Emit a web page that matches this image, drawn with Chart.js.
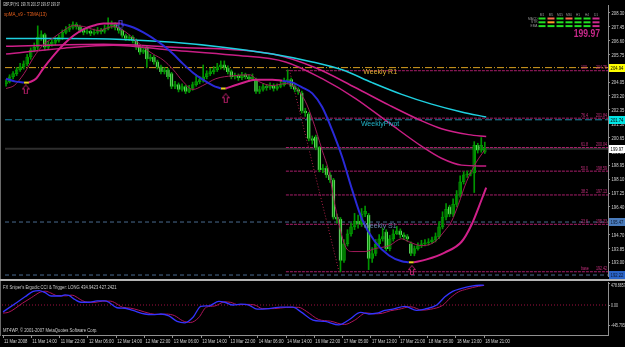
<!DOCTYPE html>
<html>
<head>
<meta charset="utf-8">
<script src="https://cdn.jsdelivr.net/npm/chart.js@4.4.1/dist/chart.umd.min.js"></script>
<style>
  html, body { margin: 0; padding: 0; background: #000; }
  #wrap { position: relative; width: 625px; height: 347px; background: #000; overflow: hidden; }
  #main { position: absolute; left: 0; top: 0; }
  #osc { position: absolute; left: 0; top: 281px; }
</style>
</head>
<body>
<div id="wrap">
  <canvas id="main" width="625" height="281"></canvas>
  <canvas id="osc" width="625" height="66"></canvas>
</div>
<script>
// GBPJPY H1, 11 Mar 2008 .. 18 Mar 2008, one entry per hourly bar
const timeLabels = ['11 Mar 2008', '11 Mar 14:00', '11 Mar 22:00', '12 Mar 06:00', '12 Mar 14:00', '12 Mar 22:00',
  '13 Mar 06:00', '13 Mar 14:00', '13 Mar 22:00', '14 Mar 06:00', '14 Mar 14:00', '16 Mar 22:00',
  '17 Mar 05:00', '17 Mar 13:00', '17 Mar 21:00', '18 Mar 05:00', '18 Mar 13:00', '18 Mar 21:00'];
const timeTickBars = [0, 8, 16, 24, 32, 40, 48, 56, 64, 72, 80, 88, 96, 104, 112, 120, 128, 136];
const priceTicks = [208.30, 207.45, 206.60, 205.75, 204.90, 204.05, 203.20, 202.35, 201.50, 200.65,
  199.80, 198.95, 198.10, 197.25, 196.40, 195.55, 194.70, 193.85, 193.00];

const opens = [
  203.95, 204.08, 204.38, 204.57, 204.81, 204.99, 205.17, 205.59, 206.01, 206.19,
  206.79, 206.97, 206.19, 206.37, 206.49, 206.61, 206.79, 207.10, 207.28, 207.40,
  207.58, 207.46, 207.22, 207.10, 207.16, 207.04, 207.10, 207.22, 207.16, 207.34,
  207.46, 207.58, 207.40, 207.22, 206.91, 206.73, 206.79, 206.61, 206.19, 205.89,
  206.19, 205.47, 205.59, 205.29, 204.99, 204.69, 204.81, 204.57, 203.78, 203.90,
  203.60, 203.78, 203.48, 203.66, 203.90, 204.08, 204.20, 204.38, 204.57, 204.69,
  204.81, 204.99, 205.11, 204.93, 204.69, 204.38, 204.44, 204.32, 204.50, 204.38,
  204.26, 204.20, 203.48, 203.60, 203.78, 203.72, 203.84, 203.66, 203.78, 203.90,
  204.08, 204.20, 203.78, 203.60, 203.40, 202.28, 202.10, 200.59, 200.70, 200.05,
  198.66, 198.78, 198.36, 198.06, 195.77, 195.65, 193.12, 194.14, 194.75, 195.17,
  195.53, 195.35, 195.95, 195.90, 193.24, 193.54, 194.14, 194.44, 194.87, 193.84,
  194.44, 194.75, 194.93, 194.69, 194.57, 194.14, 193.54, 193.84, 194.02, 194.14,
  194.20, 194.26, 194.38, 194.57, 195.17, 195.77, 196.40, 195.95, 196.55, 197.16,
  197.94, 198.36, 198.42, 198.48, 200.17, 199.87, 199.76];
const highs = [
  204.20, 204.50, 204.70, 204.95, 205.20, 205.35, 205.75, 206.15, 206.45, 207.50,
  207.20, 207.05, 206.55, 206.65, 206.80, 206.95, 207.25, 207.45, 207.60, 207.75,
  207.70, 207.55, 207.35, 207.35, 207.25, 207.30, 207.40, 207.35, 207.55, 208.00,
  207.80, 207.70, 207.50, 207.30, 207.00, 206.95, 206.90, 206.70, 206.30, 206.20,
  206.25, 205.75, 205.70, 205.40, 205.10, 204.95, 204.90, 204.65, 204.10, 204.00,
  203.95, 203.85, 203.85, 204.05, 204.50, 204.40, 205.10, 204.75, 204.90, 205.00,
  205.20, 205.35, 205.35, 205.05, 204.80, 204.60, 204.55, 204.65, 204.60, 204.50,
  204.55, 204.30, 203.80, 203.95, 203.90, 204.00, 203.95, 203.95, 204.10, 204.30,
  204.80, 204.30, 203.90, 203.70, 203.50, 202.45, 202.20, 200.75, 200.80, 200.10,
  199.00, 198.90, 198.50, 198.15, 195.95, 195.75, 194.40, 195.00, 195.40, 196.00,
  195.90, 196.30, 196.45, 196.00, 193.90, 194.40, 194.70, 195.10, 195.00, 194.65,
  195.00, 195.20, 195.05, 194.80, 194.70, 194.25, 194.00, 194.20, 194.35, 194.40,
  194.45, 194.55, 194.80, 195.50, 196.10, 196.60, 196.50, 196.90, 197.40, 198.30,
  198.55, 198.60, 198.65, 200.40, 200.30, 200.65, 200.37];
const lows = [
  203.80, 204.00, 204.25, 204.45, 204.70, 204.85, 205.05, 205.45, 205.90, 206.05,
  206.60, 206.00, 206.05, 206.25, 206.35, 206.50, 206.65, 207.00, 207.15, 207.30,
  207.30, 207.10, 206.95, 207.00, 206.90, 206.95, 207.00, 207.00, 207.05, 207.25,
  207.35, 207.25, 207.05, 206.80, 206.60, 206.60, 206.45, 206.05, 205.75, 205.80,
  204.95, 205.35, 205.15, 204.85, 204.55, 204.55, 204.25, 203.65, 203.65, 203.45,
  203.50, 203.35, 203.40, 203.55, 203.80, 203.95, 204.05, 204.25, 204.45, 204.55,
  204.70, 204.85, 204.80, 204.55, 204.25, 204.25, 204.15, 204.20, 204.25, 204.10,
  204.15, 203.35, 203.35, 203.50, 203.55, 203.60, 203.50, 203.55, 203.70, 203.80,
  203.95, 203.65, 203.45, 203.30, 202.15, 201.95, 200.45, 200.25, 199.90, 198.55,
  198.50, 198.20, 197.90, 195.65, 195.40, 192.42, 193.00, 194.00, 194.60, 195.00,
  195.10, 195.20, 195.80, 192.55, 193.00, 193.40, 194.00, 194.30, 193.70, 193.70,
  194.30, 194.70, 194.50, 194.40, 194.30, 193.40, 193.40, 193.75, 193.90, 194.00,
  194.05, 194.15, 194.25, 194.45, 195.05, 195.60, 195.80, 195.80, 196.40, 197.00,
  197.80, 198.20, 198.30, 197.28, 199.70, 199.75, 199.67];
const closes = [
  204.08, 204.38, 204.57, 204.81, 204.99, 205.17, 205.59, 206.01, 206.19, 206.79,
  206.97, 206.19, 206.37, 206.49, 206.61, 206.79, 207.10, 207.28, 207.40, 207.58,
  207.46, 207.22, 207.10, 207.16, 207.04, 207.10, 207.22, 207.16, 207.34, 207.46,
  207.58, 207.40, 207.22, 206.91, 206.73, 206.79, 206.61, 206.19, 205.89, 206.01,
  205.47, 205.59, 205.29, 204.99, 204.69, 204.81, 204.38, 203.78, 203.90, 203.60,
  203.78, 203.48, 203.66, 203.90, 204.08, 204.20, 204.38, 204.57, 204.69, 204.81,
  204.99, 205.11, 204.93, 204.69, 204.38, 204.44, 204.32, 204.50, 204.38, 204.26,
  204.38, 203.48, 203.60, 203.78, 203.72, 203.84, 203.66, 203.78, 203.90, 204.08,
  204.20, 203.78, 203.60, 203.48, 202.28, 202.16, 200.59, 200.47, 200.05, 198.66,
  198.78, 198.36, 198.06, 195.77, 195.65, 193.12, 194.14, 194.75, 195.17, 195.53,
  195.35, 195.95, 196.13, 193.24, 193.54, 194.14, 194.44, 194.57, 193.84, 194.44,
  194.75, 194.93, 194.69, 194.57, 194.44, 193.54, 193.84, 194.02, 194.14, 194.20,
  194.26, 194.38, 194.57, 195.17, 195.77, 196.25, 195.95, 196.55, 197.16, 197.94,
  198.36, 198.42, 198.48, 200.17, 199.87, 200.17, 199.97];

// indicator curves, [bar, price]
const cyanMA = [[0, 206.73], [16.4, 206.73], [33.3, 206.67], [47.5, 206.49], [61.6, 206.19], [75.7, 205.77],
  [87.0, 205.29], [95.5, 204.81], [104.0, 204.02], [112.4, 203.30], [120.9, 202.70], [129.4, 202.22], [136.4, 201.91]];
const slowMA = [[0, 206.25], [27.7, 206.37], [47.5, 206.19], [75.7, 205.77], [87.9, 204.93], [99.2, 203.72],
  [108.8, 202.64], [118.1, 201.67], [123.7, 201.19], [131.4, 200.83], [136.4, 200.71]];
const midMA = [[0, 205.77], [16.4, 206.13], [30.5, 206.31], [47.5, 206.01], [64.4, 205.71], [79.4, 205.29],
  [89.8, 204.26], [99.2, 203.06], [108.8, 201.55], [118.1, 200.11], [123.7, 199.38], [129.4, 198.96], [136.4, 198.90]];
const fastMA = [[0, 203.66], [2.3, 203.84], [5.1, 204.57], [7.9, 205.59], [10.7, 206.37], [13.6, 206.79],
  [16.4, 207.22], [19.2, 207.52], [22.0, 207.46], [26.3, 207.22], [30.5, 207.46], [33.3, 207.22], [36.2, 206.73],
  [39.0, 206.19], [41.8, 205.77], [44.6, 205.41], [47.5, 204.81], [50.3, 204.08], [53.1, 203.60], [55.9, 203.84],
  [59.6, 204.26], [64.4, 204.44], [69.2, 204.50], [71.9, 204.08], [75.7, 203.84], [79.4, 203.96], [82.2, 203.72],
  [85.0, 202.88], [87.0, 201.79], [89.8, 199.87], [91.8, 198.48], [93.5, 196.43], [96.3, 194.02], [98.3, 193.66],
  [102.0, 193.66], [104.8, 193.84], [108.8, 194.02], [112.4, 194.44], [114.4, 194.26], [118.1, 194.02],
  [121.8, 194.26], [124.6, 194.93], [126.6, 195.53], [128.5, 196.55], [130.8, 197.94], [133.6, 199.14], [135.9, 199.87]];
// xpMA T3 line, split where its colour changes: down / turn / up
const xpMASegments = [
  ['down', [[0, 204.26], [2.8, 204.08], [5.1, 204.02]]],
  ['turn', [[5.1, 204.02], [6.5, 204.02]]],
  ['up', [[6.5, 204.02], [8.5, 204.26], [10.7, 204.93], [13.6, 205.71], [16.4, 206.37], [19.2, 206.91],
    [22.0, 207.28], [24.9, 207.52], [27.7, 207.64], [32.5, 207.64]]],
  ['down', [[32.5, 207.64], [36.2, 207.40], [39.0, 207.10], [41.8, 206.73], [44.6, 206.31], [47.5, 205.77],
    [50.3, 205.17], [53.1, 204.63], [55.9, 204.20], [58.8, 203.84], [61.0, 203.66]]],
  ['turn', [[61.0, 203.66], [62.4, 203.66]]],
  ['up', [[62.4, 203.66], [65.8, 203.90], [70.9, 204.20], [75.7, 204.20], [78.5, 204.14]]],
  ['down', [[78.5, 204.14], [81.4, 204.02], [84.2, 203.72], [87.0, 203.36], [89.8, 202.52], [92.7, 201.07],
    [95.5, 199.44], [98.3, 197.46], [101.1, 195.65], [104.8, 194.26], [108.8, 193.42], [112.4, 193.06], [114.4, 193.00]]],
  ['turn', [[114.4, 193.00], [115.8, 193.00]]],
  ['up', [[115.8, 193.00], [119.5, 193.18], [124.6, 193.60], [129.4, 194.26], [132.2, 195.29], [135.0, 196.79], [136.4, 197.58]]]
];
const upArrows = [[5.6, 203.60], [62.4, 203.06], [115.3, 192.52]];
const downArrows = [[32.5, 207.58]];

// objects: weekly pivots, Fibonacci retracement, bid
const weeklyNames = ['Weekly R1', 'WeeklyPivot', 'Weekly S1', 'Weekly S2'];
const weeklyPrices = [204.94, 201.74, 195.47, 192.22];
const weeklyTextBar = [101.5, 100.8, 101.5, 101.5];
const fibLevels = ['100', '76.4', '61.8', '50.0', '38.2', '23.6', 'base'];
const fibPrices = [204.75, 201.84, 200.04, 198.59, 197.13, 195.33, 192.42];
const fibStartBar = 79.5;
const fibTrend = [[80.5, 204.80], [94.6, 192.42]];
const bidPrice = 199.97;

// signal panel
const sigRows = ['MACD', 'STR', 'EMA'];
const sigCols = ['M1', 'M5', 'M15', 'M30', 'H1', 'H4', 'D1'];
const sigState = [
  ['up', 'dn', 'up', 'dn', 'up', 'up', 'd1'],
  ['up', 'dn2', 'up', 'up', 'up', 'up', 'd1'],
  ['up', 'up', 'up', 'up', 'up', 'up', 'd1']];

// Ergodic CCI & trigger, [bar, value]
const cciLine = [[0, -149], [4, 60], [6.2, 178], [8.5, 298], [10.2, 315], [11.9, 268], [13.6, 196], [16.4, 196],
  [17.5, 220], [18.6, 208], [20.3, 119], [22, 60], [24.3, 60], [26.6, 89], [28.8, 89], [29.9, 60], [32.2, -60],
  [34.5, -71], [36.7, -119], [40.1, -196], [42.4, -208], [44.6, -196], [46.9, -238], [49.2, -357], [51.4, -387],
  [53.7, -268], [55.9, -30], [58.2, -18], [61, 77], [62.7, 60], [65, 0], [67.2, 18], [69.5, 0], [71.8, -89],
  [75.1, -77], [78.5, -48], [81.9, -48], [84.2, -149], [87.6, -327], [91, -357], [94.9, -434], [97.7, -327],
  [101.1, -161], [103.4, -196], [105.6, -178], [107.9, -119], [110.2, -89], [113.6, -30], [116.9, -119],
  [119.2, -89], [122.6, 0], [124.9, 178], [127.1, 298], [129.4, 357], [132.8, 417], [135.9, 435]];
const triggerLine = [[0, -175], [1.5, -160], [5.5, 40], [8, 160], [10.5, 280], [12, 300], [13.5, 262], [15.2, 205],
  [18, 200], [19.2, 215], [20.2, 200], [22, 112], [23.8, 62], [26, 58], [28.2, 86], [30.4, 84], [31.5, 55],
  [33.8, -50], [36, -68], [38.3, -112], [41.7, -188], [44, -205], [46.2, -198], [48.5, -232], [50.8, -345],
  [53, -380], [55.3, -275], [57.5, -45], [59.8, -22], [62.6, 68], [64.3, 58], [66.6, 5], [68.8, 14], [71.1, 2],
  [73.4, -80], [76.7, -78], [80.1, -52], [83.5, -50], [85.8, -140], [89.2, -315], [92.6, -352], [96.5, -425],
  [99.3, -335], [102.7, -172], [105, -192], [107.2, -180], [109.5, -125], [111.8, -95], [115.2, -38],
  [118.5, -112], [120.8, -92], [124.2, -10], [126.5, 160], [128.7, 285], [131, 345], [134.4, 408], [136, 427]];
const cciTicks = [478.8857, 0, -445.7957];
const cciTickText = ['478.8857', '0.00', '-445.7957'];

const SANS = "'Liberation Sans', Arial, sans-serif";
const X_MIN = -0.3, X_MAX = 171;
const XP_COLORS = { down: '#2a2ad8', up: '#d0208a', turn: '#e8d020' };
const WEEKLY_LINE = ['#d8a020', '#1e8aa8', '#4a6a90', '#4a6a90'];
const WEEKLY_TEXT = ['#e0b030', '#22b4c8', '#6282a8', '#6282a8'];
const WEEKLY_DASH = [[7, 2, 1, 2], [7, 3], [4, 3], [4, 3]];
const SIG_COLORS = { up: '#22e022', dn: '#ff6a4a', dn2: '#ff9a2a', d1: '#d02a90' };
const AXIS_TEXT = '#d4d4d4';

Chart.defaults.font.family = SANS;

const xy = pairs => pairs.map(p => ({ x: p[0], y: p[1] }));
const bars = opens.map((_, i) => i);

// the screenshot is squeezed sideways, so text is drawn narrower than its height
function sq(ctx, text, x, y, sx, align) {
  ctx.save();
  ctx.translate(x, y);
  ctx.scale(sx, 1);
  ctx.textAlign = align || 'left';
  ctx.fillText(text, 0, 0);
  ctx.restore();
}

function lineDs(pairs, color, width, extra) {
  return Object.assign({
    type: 'line', data: xy(pairs), borderColor: color, borderWidth: width,
    pointRadius: 0, fill: false, cubicInterpolationMode: 'monotone', order: 1
  }, extra || {});
}
function hline(price, from, color, width, dash) {
  return lineDs([[from, price], [X_MAX, price]], color, width, { borderDash: dash, cubicInterpolationMode: 'default', tension: 0, order: 3 });
}
function arrowIcon(color, up) {
  const c = document.createElement('canvas');
  c.width = 8; c.height = 10;
  const g = c.getContext('2d');
  const pts = [[4, 0.5], [7.5, 4.5], [5.5, 4.5], [5.5, 9.5], [2.5, 9.5], [2.5, 4.5], [0.5, 4.5]];
  g.strokeStyle = color; g.lineWidth = 1;
  g.beginPath();
  pts.forEach((p, i) => {
    const py = up ? p[1] : 10 - p[1];
    if (i === 0) g.moveTo(p[0], py); else g.lineTo(p[0], py);
  });
  g.closePath(); g.stroke();
  return c;
}

const mainSets = [];
// curves on top
xpMASegments.forEach(s => mainSets.push(lineDs(s[1], XP_COLORS[s[0]], 2)));
mainSets.push(lineDs(fastMA, '#a01a58', 1));
mainSets.push(lineDs(cyanMA, '#1ed0e0', 1.5));
mainSets.push(lineDs(slowMA, '#d0208a', 1.5));
mainSets.push(lineDs(midMA, '#c81e84', 1.5));
mainSets.push({ type: 'line', data: xy(upArrows), showLine: false, pointStyle: arrowIcon('#c0206e', true), order: 0 });
mainSets.push({ type: 'line', data: xy(downArrows), showLine: false, pointStyle: arrowIcon('#5040e0', false), order: 0 });
// candles
mainSets.push({
  type: 'bar', data: bars.map(i => ({ x: i, y: [lows[i], highs[i]] })), backgroundColor: '#009400',
  barThickness: 1, grouped: false, order: 2
});
mainSets.push({
  type: 'bar', data: bars.map(i => ({ x: i, y: [opens[i], closes[i]] })),
  backgroundColor: bars.map(i => closes[i] < opens[i] ? '#e6ffe0' : '#000000'),
  borderColor: bars.map(i => closes[i] < opens[i] ? '#5ad85a' : '#00a000'),
  borderWidth: 1, borderSkipped: false, barThickness: 3, grouped: false, order: 2
});
// objects underneath
weeklyPrices.forEach((p, i) => mainSets.push(hline(p, X_MIN, WEEKLY_LINE[i], 1, WEEKLY_DASH[i])));
fibPrices.forEach(p => mainSets.push(hline(p, fibStartBar, '#a81e6a', 1, [3, 1])));
mainSets.push(hline(bidPrice, X_MIN, '#2e2e2e', 2, []));
mainSets.push(lineDs(fibTrend, '#b02048', 1, { borderDash: [1, 2], cubicInterpolationMode: 'default', tension: 0, order: 3 }));

const labelBoxes = [
  [weeklyPrices[0], '#ffff00', '#000'], [weeklyPrices[1], '#00e4e4', '#000'], [bidPrice, '#ffffff', '#000'],
  [weeklyPrices[2], '#4a7cbc', '#0c1830'], [weeklyPrices[3], '#2a64c8', '#0c1830']];

const mainText = {
  id: 'mainText',
  afterDatasetsDraw(chart) {
    const { ctx, chartArea: a, scales: { x, y } } = chart;
    ctx.save();
    ctx.beginPath(); ctx.rect(a.left, a.top, a.right - a.left, a.bottom - a.top); ctx.clip();
    ctx.textBaseline = 'top';
    ctx.font = '7px ' + SANS;
    weeklyNames.forEach((n, i) => {
      ctx.fillStyle = WEEKLY_TEXT[i];
      sq(ctx, n, x.getPixelForValue(weeklyTextBar[i]), y.getPixelForValue(weeklyPrices[i]) + 1, 1);
    });
    ctx.font = '5px ' + SANS;
    ctx.textBaseline = 'bottom';
    ctx.fillStyle = '#c8307f';
    fibLevels.forEach((lv, i) => {
      const py = y.getPixelForValue(fibPrices[i]) - 0.5;
      sq(ctx, lv, 581, py, 0.72);
      sq(ctx, fibPrices[i].toFixed(2), 607, py, 0.72, 'right');
    });
    ctx.restore();

    ctx.save();
    ctx.textBaseline = 'top';
    ctx.font = '5px ' + SANS;
    ctx.fillStyle = '#d8d8d8';
    sq(ctx, 'GBPJPY,H1  ' + [opens[136], highs[136], lows[136], closes[136]].map(v => v.toFixed(2)).join(' '), 3, 2, 0.6);
    ctx.font = '6px ' + SANS;
    ctx.fillStyle = '#e8601c';
    sq(ctx, 'xpMA_v9 - T3MA(13)', 4, 11, 0.75);

    // multi-timeframe signal panel
    ctx.font = '4px ' + SANS;
    ctx.fillStyle = '#9a9a9a';
    sigCols.forEach((c, j) => sq(ctx, c, 542 + j * 9, 12.5, 0.8, 'center'));
    sigRows.forEach((r, i) => {
      ctx.fillStyle = '#9a9a9a';
      sq(ctx, r, 537.5, 16.5 + i * 3.8, 0.8, 'right');
      sigState[i].forEach((s, j) => {
        ctx.fillStyle = SIG_COLORS[s];
        ctx.fillRect(538.5 + j * 9, 17.5 + i * 3.8, 7, 2);
      });
    });
    ctx.font = 'bold 11px ' + SANS;
    ctx.fillStyle = '#c8288a';
    sq(ctx, closes[136].toFixed(2), 600, 28, 0.78, 'right');
    ctx.restore();
  },
  afterDraw(chart) {
    const { ctx, chartArea: a, scales: { y } } = chart;
    ctx.save();
    ctx.textBaseline = 'middle';
    ctx.font = '6px ' + SANS;
    ctx.fillStyle = AXIS_TEXT;
    priceTicks.forEach(v => sq(ctx, v.toFixed(2), a.right + 3.5, y.getPixelForValue(v) + 0.5, 0.7));
    labelBoxes.forEach(b => {
      const py = Math.round(y.getPixelForValue(b[0]));
      ctx.fillStyle = b[1];
      ctx.fillRect(a.right + 1, py - 4, 625 - a.right - 1, 8);
      ctx.fillStyle = b[2];
      sq(ctx, b[0].toFixed(2), a.right + 9, py + 0.5, 0.7, 'center');
    });
    ctx.fillStyle = '#6a6a6a';
    ctx.fillRect(0, 0, 1, 281);
    ctx.fillStyle = '#b4b4b4';
    ctx.fillRect(0, 279, 625, 2);
    ctx.restore();
  }
};

new Chart(document.getElementById('main'), {
  type: 'bar',
  data: { datasets: mainSets },
  options: {
    responsive: false, animation: false, events: [],
    layout: { padding: { left: 2, top: 2, right: 0, bottom: 3 } },
    plugins: { legend: { display: false }, tooltip: { enabled: false } },
    scales: {
      x: { type: 'linear', display: false, min: X_MIN, max: X_MAX, offset: false },
      y: {
        position: 'right', min: 192.16, max: 208.78,
        afterBuildTicks: ax => { ax.ticks = priceTicks.map(v => ({ value: v })); },
        afterFit: ax => { ax.width = 17; },
        ticks: { display: false },
        grid: { drawOnChartArea: false, tickLength: 2, color: '#909090' },
        border: { color: '#909090' }
      }
    }
  },
  plugins: [mainText]
});

const oscText = {
  id: 'oscText',
  afterDraw(chart) {
    const { ctx, chartArea: a, scales: { x, y } } = chart;
    ctx.save();
    ctx.textBaseline = 'top';
    ctx.font = '6px ' + SANS;
    ctx.fillStyle = '#d0d0d0';
    sq(ctx, "FX Sniper's Ergodic CCI & Trigger: LONG 434.9423 427.2421", 3, 3, 0.69);
    sq(ctx, 'MT4WP, \u00a9 2001-2007 MetaQuotes Software Corp.', 3, 46, 0.7);
    ctx.fillStyle = AXIS_TEXT;
    timeTickBars.forEach((b, i) => sq(ctx, timeLabels[i], x.getPixelForValue(b) + 1, a.bottom + 3, 0.7));
    ctx.textBaseline = 'middle';
    ctx.font = '5.5px ' + SANS;
    cciTicks.forEach((v, i) => {
      const py = Math.min(Math.max(y.getPixelForValue(v), a.top + 2.5), a.bottom - 3);
      sq(ctx, cciTickText[i], a.right + 3, py + 0.5, 0.64);
    });
    ctx.fillStyle = '#6a6a6a';
    ctx.fillRect(0, 0, 1, 55);
    ctx.restore();
  }
};

new Chart(document.getElementById('osc'), {
  type: 'line',
  data: {
    datasets: [
      lineDs(cciLine, '#3434ff', 1.3),
      lineDs(triggerLine, '#b0145a', 1),
      lineDs([[X_MIN, 0], [X_MAX, 0]], '#a01040', 1, { borderDash: [1, 2], cubicInterpolationMode: 'default', tension: 0, order: 3 })
    ]
  },
  options: {
    responsive: false, animation: false, events: [],
    layout: { padding: { left: 2, top: 1, right: 0, bottom: 1 } },
    plugins: { legend: { display: false }, tooltip: { enabled: false } },
    scales: {
      x: {
        type: 'linear', min: X_MIN, max: X_MAX,
        afterBuildTicks: ax => { ax.ticks = timeTickBars.map(v => ({ value: v })); },
        afterFit: ax => { ax.height = 11; },
        ticks: { display: false },
        grid: { drawOnChartArea: false, tickLength: 3, color: '#909090' },
        border: { color: '#909090' }
      },
      y: {
        position: 'right', min: -653, max: 501,
        afterBuildTicks: ax => { ax.ticks = cciTicks.map(v => ({ value: v })); },
        afterFit: ax => { ax.width = 17; },
        ticks: { display: false },
        grid: { drawOnChartArea: false, tickLength: 2, color: '#909090' },
        border: { color: '#909090' }
      }
    }
  },
  plugins: [oscText]
});
</script>
</body>
</html>
